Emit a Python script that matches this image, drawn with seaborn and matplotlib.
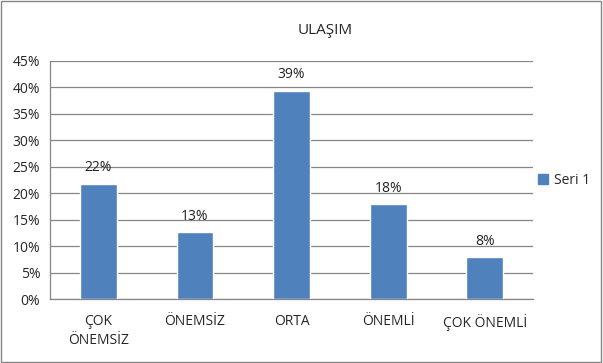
import numpy as np
import pandas as pd
import matplotlib
matplotlib.use("Agg")
import matplotlib.pyplot as plt
import seaborn as sns
from matplotlib.patches import Rectangle

# values
categories = ["ÇOK\nÖNEMSİZ", "ÖNEMSİZ", "ORTA", "ÖNEMLİ", "ÇOK ÖNEMLİ"]
values = [0.218, 0.127, 0.394, 0.180, 0.0795]
labels = ["22%", "13%", "39%", "18%", "8%"]
yticks = [0, 0.05, 0.10, 0.15, 0.20, 0.25, 0.30, 0.35, 0.40, 0.45]
series_name = "Seri 1"

sns.set_style("white")
plt.rcParams["font.family"] = ["Open Sans", "DejaVu Sans"]

df = pd.DataFrame({"kategori": categories, "deger": values})

fig = plt.figure(figsize=(6.03, 3.63), dpi=100)
ax = fig.add_axes([0.083, 0.176, 0.801, 0.656])

bar_color = "#4F81BD"
fs = 10
sns.barplot(data=df, x="kategori", y="deger", color=bar_color, width=0.38,
            saturation=1, ax=ax, zorder=3)

for i, (v, lab) in enumerate(zip(values, labels)):
    ax.annotate(lab, (i, v), xytext=(0, 6), textcoords="offset points",
                ha="center", va="bottom", fontsize=fs, color="#222222")

ax.set_ylim(0, 0.45)
ax.set_xlim(-0.5, len(categories) - 0.5)
ax.set_yticks(yticks)
ax.set_yticklabels([f"{int(round(t * 100))}%" for t in yticks], fontsize=fs)
ax.yaxis.grid(True, color="#868686", linewidth=0.9, zorder=0)
ax.set_axisbelow(True)

# x ticks at category boundaries, labels centred under bars
ax.set_xticks(np.arange(len(categories)))
ax.set_xticklabels(categories, fontsize=fs, linespacing=1.3)
ax.tick_params(axis="x", length=0, pad=11)
ax.set_xticks(np.arange(-0.5, len(categories)), minor=True)
ax.tick_params(axis="x", which="minor", length=5, color="#868686", direction="out")
ax.tick_params(axis="y", length=4, color="#868686", direction="out", pad=3)

for side in ["top", "right"]:
    ax.spines[side].set_visible(False)
for side in ["left", "bottom"]:
    ax.spines[side].set_color("#868686")
    ax.spines[side].set_linewidth(0.9)

ax.set_xlabel("")
ax.set_ylabel("")

fig.text(0.54, 0.915, "ULAŞIM", ha="center", va="center", fontsize=11)

handle = Rectangle((0, 0), 1, 1, color=bar_color)
fig.legend([handle], [series_name], loc="center left", bbox_to_anchor=(0.872, 0.503),
           frameon=False, fontsize=fs, handlelength=0.7, handleheight=0.7,
           handletextpad=0.4)

fig.patches.append(Rectangle((0.002, 0.003), 0.995, 0.994, transform=fig.transFigure,
                             fill=False, edgecolor="#868686", linewidth=1))

fig.savefig("out.png", dpi=100)
